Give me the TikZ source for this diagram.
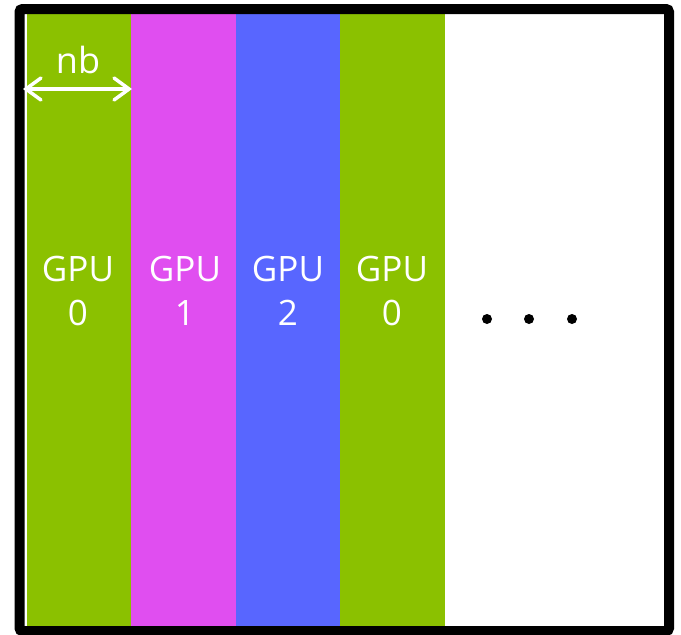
\documentclass[tikz,border=0pt]{standalone}
\usepackage{fontspec}
\setmainfont{Open Sans}
\usetikzlibrary{arrows.meta}
\definecolor{gpugreen}{RGB}{139,193,0}
\definecolor{gpumag}{RGB}{224,78,240}
\definecolor{gpublue}{RGB}{88,102,255}
\begin{document}
\begin{tikzpicture}[x=1pt,y=-1pt,
  col/.style={inner sep=0pt,outer sep=0pt,draw=none,minimum height=613pt,minimum width=#1,anchor=north west},
  lbl/.style={text=white,font=\fontsize{35}{44}\selectfont,align=center},
  dotm/.style={circle,fill=black,inner sep=0pt,minimum size=10pt}]
\useasboundingbox (0,0) rectangle (681,635);
\node[col=104pt,fill=gpugreen] (c0) at (27,14) {};
\node[col=105pt,fill=gpumag] (c1) at (131,14) {};
\node[col=104pt,fill=gpublue] (c2) at (236,14) {};
\node[col=105pt,fill=gpugreen] (c3) at (340,14) {};
\draw[line width=10pt,rounded corners=3pt] (19.5,9) rectangle (669,631);
\node[lbl] (t0) at (78,291) {GPU\\0};
\node[lbl] (t1) at (185,291) {GPU\\1};
\node[lbl] (t2) at (288,291) {GPU\\2};
\node[lbl] (t3) at (392,291) {GPU\\0};
\node[text=white,font=\fontsize{36}{44}\selectfont] (nb) at (78,60) {nb};
\coordinate (al) at (23,89);
\coordinate (ar) at (132,89);
\draw[white,line width=3.5pt,line cap=round,{Straight Barb[length=15pt,width=22pt,line cap=round]}-{Straight Barb[length=15pt,width=22pt,line cap=round]}] (al) -- (ar);
\node[dotm] (d1) at (487,319) {};
\node[dotm] (d2) at (529,319) {};
\node[dotm] (d3) at (572,319) {};
\end{tikzpicture}
\end{document}
